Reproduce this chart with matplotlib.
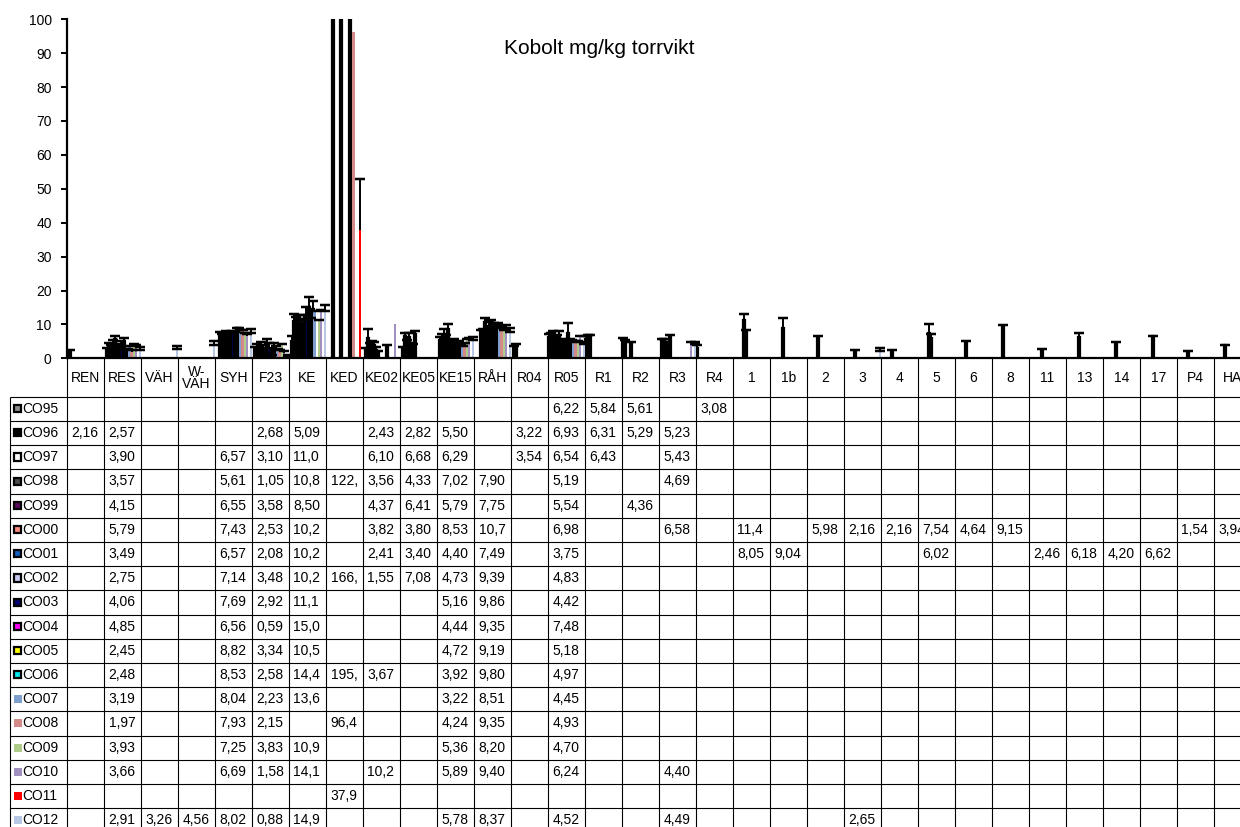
import matplotlib
matplotlib.use("Agg")
import matplotlib.pyplot as plt
from matplotlib.patches import Rectangle

plt.rcParams['font.family'] = ['Liberation Sans', 'DejaVu Sans']

# ---------------- data ----------------
categories = ["REN", "RES", "VÄH", "W-VÄH", "SYH", "F23", "KE", "KED", "KE02", "KE05",
              "KE15", "RÅH", "R04", "R05", "R1", "R2", "R3", "R4", "1", "1b", "2", "3",
              "4", "5", "6", "8", "11", "13", "14", "17", "P4", "HA"]
header_labels = ["W-\nVÄH" if c == "W-VÄH" else c for c in categories]

series_names = ["CO95", "CO96", "CO97", "CO98", "CO99", "CO00", "CO01", "CO02", "CO03",
                "CO04", "CO05", "CO06", "CO07", "CO08", "CO09", "CO10", "CO11", "CO12"]

co95 = {"R05": 6.22, "R1": 5.84, "R2": 5.61, "R4": 3.08}
co96 = {"REN": 2.16, "RES": 2.57, "F23": 2.68, "KE": 5.09, "KE02": 2.43, "KE05": 2.82,
        "KE15": 5.50, "R04": 3.22, "R05": 6.93, "R1": 6.31, "R2": 5.29, "R3": 5.23}
co97 = {"RES": 3.90, "SYH": 6.57, "F23": 3.10, "KE": 11.0, "KE02": 6.10, "KE05": 6.68,
        "KE15": 6.29, "R04": 3.54, "R05": 6.54, "R1": 6.43, "R3": 5.43}
co98 = {"RES": 3.57, "SYH": 5.61, "F23": 1.05, "KE": 10.8, "KED": 122.4, "KE02": 3.56,
        "KE05": 4.33, "KE15": 7.02, "RÅH": 7.90, "R05": 5.19, "R3": 4.69}
co99 = {"RES": 4.15, "SYH": 6.55, "F23": 3.58, "KE": 8.50, "KE02": 4.37, "KE05": 6.41,
        "KE15": 5.79, "RÅH": 7.75, "R05": 5.54, "R2": 4.36}
co00 = {"RES": 5.79, "SYH": 7.43, "F23": 2.53, "KE": 10.2, "KE02": 3.82, "KE05": 3.80,
        "KE15": 8.53, "RÅH": 10.7, "R05": 6.98, "R3": 6.58, "1": 11.4, "2": 5.98,
        "3": 2.16, "4": 2.16, "5": 7.54, "6": 4.64, "8": 9.15, "P4": 1.54, "HA": 3.94}
co01 = {"RES": 3.49, "SYH": 6.57, "F23": 2.08, "KE": 10.2, "KE02": 2.41, "KE05": 3.40,
        "KE15": 4.40, "RÅH": 7.49, "R05": 3.75, "1": 8.05, "1b": 9.04, "5": 6.02,
        "11": 2.46, "13": 6.18, "14": 4.20, "17": 6.62}
co02 = {"RES": 2.75, "SYH": 7.14, "F23": 3.48, "KE": 10.2, "KED": 166.2, "KE02": 1.55,
        "KE05": 7.08, "KE15": 4.73, "RÅH": 9.39, "R05": 4.83}
co03 = {"RES": 4.06, "SYH": 7.69, "F23": 2.92, "KE": 11.1, "KE15": 5.16, "RÅH": 9.86, "R05": 4.42}
co04 = {"RES": 4.85, "SYH": 6.56, "F23": 0.59, "KE": 15.0, "KE15": 4.44, "RÅH": 9.35, "R05": 7.48}
co05 = {"RES": 2.45, "SYH": 8.82, "F23": 3.34, "KE": 10.5, "KE15": 4.72, "RÅH": 9.19, "R05": 5.18}
co06 = {"RES": 2.48, "SYH": 8.53, "F23": 2.58, "KE": 14.4, "KED": 195.3, "KE02": 3.67,
        "KE15": 3.92, "RÅH": 9.80, "R05": 4.97}
co07 = {"RES": 3.19, "SYH": 8.04, "F23": 2.23, "KE": 13.6, "KE15": 3.22, "RÅH": 8.51, "R05": 4.45}
co08 = {"RES": 1.97, "SYH": 7.93, "F23": 2.15, "KED": 96.4, "KE15": 4.24, "RÅH": 9.35, "R05": 4.93}
co09 = {"RES": 3.93, "SYH": 7.25, "F23": 3.83, "KE": 10.9, "KE15": 5.36, "RÅH": 8.20, "R05": 4.70}
co10 = {"RES": 3.66, "SYH": 6.69, "F23": 1.58, "KE": 14.1, "KE02": 10.2, "KE15": 5.89,
        "RÅH": 9.40, "R05": 6.24, "R3": 4.40}
co11 = {"KED": 37.9}
co12 = {"RES": 2.91, "VÄH": 3.26, "W-VÄH": 4.56, "SYH": 8.02, "F23": 0.88, "KE": 14.9,
        "KE15": 5.78, "RÅH": 8.37, "R05": 4.52, "R3": 4.49, "3": 2.65}

# error bar sizes
e95 = {"R05": 0.9, "R1": 0.6, "R2": 0.3, "R4": 0.8}
e96 = {"REN": 0.3, "RES": 0.6, "F23": 0.7, "KE": 1.5, "KE02": 0.5, "KE05": 0.6,
       "KE15": 0.7, "R04": 0.3, "R05": 0.5, "R1": 0.5, "R2": 0.2, "R3": 0.4}
e97 = {"RES": 0.7, "SYH": 1.2, "F23": 1.0, "KE": 2.0, "KE02": 2.5, "KE05": 0.9,
       "KE15": 1.0, "R04": 0.8, "R05": 1.5, "R1": 0.5, "R3": 0.3}
e98 = {"RES": 0.5, "SYH": 1.5, "F23": 0.3, "KE": 1.5, "KED": 20.0, "KE02": 1.0,
       "KE05": 1.2, "KE15": 1.5, "RÅH": 0.5, "R05": 1.0, "R3": 0.2}
e99 = {"RES": 1.2, "SYH": 1.0, "F23": 1.3, "KE": 3.0, "KE02": 0.6, "KE05": 1.0,
       "KE15": 1.0, "RÅH": 1.0, "R05": 1.2, "R2": 0.4}
e00 = {"RES": 0.7, "SYH": 0.6, "F23": 1.5, "KE": 2.5, "KE02": 1.0, "KE05": 0.8,
       "KE15": 1.6, "RÅH": 1.1, "R05": 1.0, "R3": 0.3, "1": 1.7, "2": 0.6,
       "3": 0.3, "4": 0.15, "5": 2.6, "6": 0.4, "8": 0.6, "P4": 0.7, "HA": 0.1}
e01 = {"RES": 0.6, "SYH": 1.0, "F23": 1.0, "KE": 1.5, "KE02": 0.8, "KE05": 0.7,
       "KE15": 1.0, "RÅH": 0.8, "R05": 1.0, "1": 0.3, "1b": 2.9, "5": 1.1,
       "11": 0.2, "13": 1.4, "14": 0.5, "17": 0.1}
e02 = {"RES": 0.5, "SYH": 0.7, "F23": 2.2, "KE": 2.5, "KED": 25.0, "KE02": 0.6,
       "KE05": 1.1, "KE15": 0.8, "RÅH": 1.2, "R05": 0.8}
e03 = {"RES": 1.0, "SYH": 0.3, "F23": 1.5, "KE": 4.0, "KE15": 0.5, "RÅH": 1.5, "R05": 1.0}
e04 = {"RES": 1.2, "SYH": 1.2, "F23": 0.5, "KE": 3.0, "KE15": 0.5, "RÅH": 1.0, "R05": 3.0}
e05 = {"RES": 0.4, "SYH": 0.2, "F23": 1.2, "KE": 1.5, "KE15": 0.5, "RÅH": 0.8, "R05": 0.5}
e06 = {"RES": 0.4, "SYH": 0.4, "F23": 1.0, "KE": 2.5, "KED": 20.0, "KE02": 0.3,
       "KE15": 0.4, "RÅH": 0.5, "R05": 0.5}
e07 = {"RES": 0.3, "SYH": 0.3, "F23": 0.5, "KE": 0.5, "KE15": 0.3, "RÅH": 0.5, "R05": 0.3}
e08 = {"RES": 0.6, "SYH": 0.3, "F23": 0.4, "KE15": 0.3, "RÅH": 0.3, "R05": 0.3}
e09 = {"RES": 0.3, "SYH": 0.3, "F23": 0.3, "KE": 0.3, "KE15": 0.2, "RÅH": 0.2, "R05": 0.3}
e10 = {"RES": 0.3, "SYH": 0.5, "F23": 0.5, "KE": 0.2, "KE15": 0.1,
       "RÅH": 0.5, "R05": 0.3, "R3": 0.3}
e11 = {"KED": 14.9}
e12 = {"RES": 0.4, "VÄH": 0.5, "W-VÄH": 0.6, "SYH": 0.5, "F23": 0.2, "KE": 0.8,
       "KE15": 0.4, "RÅH": 0.6, "R05": 0.4, "R3": 0.3, "3": 0.5}

series_values = [co95, co96, co97, co98, co99, co00, co01, co02, co03,
                 co04, co05, co06, co07, co08, co09, co10, co11, co12]
series_errors = [e95, e96, e97, e98, e99, e00, e01, e02, e03,
                 e04, e05, e06, e07, e08, e09, e10, e11, e12]
symmetric_error = {"CO12"}

# ---------------- style ----------------
face_colors = ["#8c8c8c", "#000000", "#ffffff", "#4d4d4d", "#5a0a5f", "#ff8a80",
               "#1060c0", "#c8c8f0", "#000070", "#ff00ff", "#ffff00", "#00e8f0",
               "#7f9fcf", "#d48a88", "#b0cc8a", "#a08fbf", "#ff0000", "#b8c8e4"]
bordered = [True] * 12 + [False] * 6

W, H = 1240, 827
AX_L, AX_R, AX_T, AX_B = 67.0, 1251.0, 19.3, 358.3
TAB_L, TAB_TOP, ROW_H = 9.5, 396.7, 24.2
HEADER_Y = 378.0
FS = 10
CAP_PX = 10      # cap width in pixels
ELW = 1.4

fig = plt.figure(figsize=(W / 100, H / 100), dpi=100)
fig.patch.set_facecolor("white")

ax = fig.add_axes([AX_L / W, 1 - AX_B / H, (AX_R - AX_L) / W, (AX_B - AX_T) / H])
ncat = len(categories)
nser = len(series_names)
bw = 1.0 / nser
ax.set_xlim(0, ncat)
ax.set_ylim(0, 100)

cat_index = {c: i for i, c in enumerate(categories)}

for i, (name, vals) in enumerate(zip(series_names, series_values)):
    xs = [cat_index[c] + (i + 0.5) * bw for c in vals]
    ys = list(vals.values())
    ax.bar(xs, ys, width=bw * (1.0 if bordered[i] else 1.25), color=face_colors[i],
           edgecolor="black" if bordered[i] else "none",
           linewidth=1.6 if bordered[i] else 0, zorder=2)

cap_ms = CAP_PX * 72 / 100
for i, (name, vals, errs) in enumerate(zip(series_names, series_values, series_errors)):
    keys = [c for c in vals if c in errs]
    if not keys:
        continue
    xs = [cat_index[c] + (i + 0.5) * bw for c in keys]
    ys = [vals[c] for c in keys]
    hi = [errs[c] for c in keys]
    sym = name in symmetric_error
    lo = hi if sym else [0.0] * len(hi)
    ax.errorbar(xs, ys, yerr=[lo, hi], fmt="none", ecolor="black",
                elinewidth=ELW, capsize=0, zorder=3)
    tops = [y + h for y, h in zip(ys, hi)]
    ax.plot(xs, tops, linestyle="none", marker="_", markersize=cap_ms,
            markeredgewidth=ELW + 0.4, color="black", zorder=4)
    if sym:
        bots = [y - h for y, h in zip(ys, hi)]
        ax.plot(xs, bots, linestyle="none", marker="_", markersize=cap_ms,
                markeredgewidth=ELW + 0.4, color="black", zorder=4)

ax.set_yticks(range(0, 101, 10))
ax.set_xticks([])
ax.tick_params(axis="y", direction="out", length=4, width=1.4, labelsize=FS, pad=7)
for s in ("top", "right"):
    ax.spines[s].set_visible(False)
for s in ("left", "bottom"):
    ax.spines[s].set_linewidth(1.6)

fig.text(599 / W, 1 - 49 / H, "Kobolt mg/kg torrvikt", ha="center", va="center", fontsize=15)

# ---------------- data table ----------------
tab = fig.add_axes([0, 0, 1, 1], zorder=5)
tab.set_xlim(0, W)
tab.set_ylim(H, 0)
tab.axis("off")
tab.patch.set_alpha(0)

colw = (AX_R - AX_L) / ncat
grid_kw = dict(color="black", linewidth=0.8, solid_capstyle="butt")
for c in range(ncat + 1):
    x = AX_L + c * colw
    tab.plot([x, x], [AX_B, H + 5], **grid_kw)
tab.plot([TAB_L, TAB_L], [TAB_TOP, H + 5], **grid_kw)
for r in range(nser + 1):
    y = TAB_TOP + r * ROW_H
    tab.plot([TAB_L, AX_R], [y, y], **grid_kw)

for c, lab in enumerate(header_labels):
    tab.text(AX_L + (c + 0.5) * colw, HEADER_Y, lab, ha="center", va="center",
             fontsize=FS, linespacing=0.85)


def fmt(v):
    return f"{v:.2f}".replace(".", ",")[:4]


for i, (name, vals) in enumerate(zip(series_names, series_values)):
    yc = TAB_TOP + (i + 0.5) * ROW_H
    if bordered[i]:
        tab.add_patch(Rectangle((14.0, yc - 3.8), 7.2, 7.2, facecolor=face_colors[i],
                                edgecolor="black", linewidth=1.6))
    else:
        tab.add_patch(Rectangle((14.0, yc - 4.0), 8.0, 8.0, facecolor=face_colors[i],
                                edgecolor="none"))
    tab.text(22.5, yc, name, ha="left", va="center", fontsize=FS)
    for c, v in vals.items():
        x = AX_L + cat_index[c] * colw
        tab.text(x + 4.5, yc, fmt(v), ha="left", va="center", fontsize=FS)

fig.savefig("out.png", dpi=100)
